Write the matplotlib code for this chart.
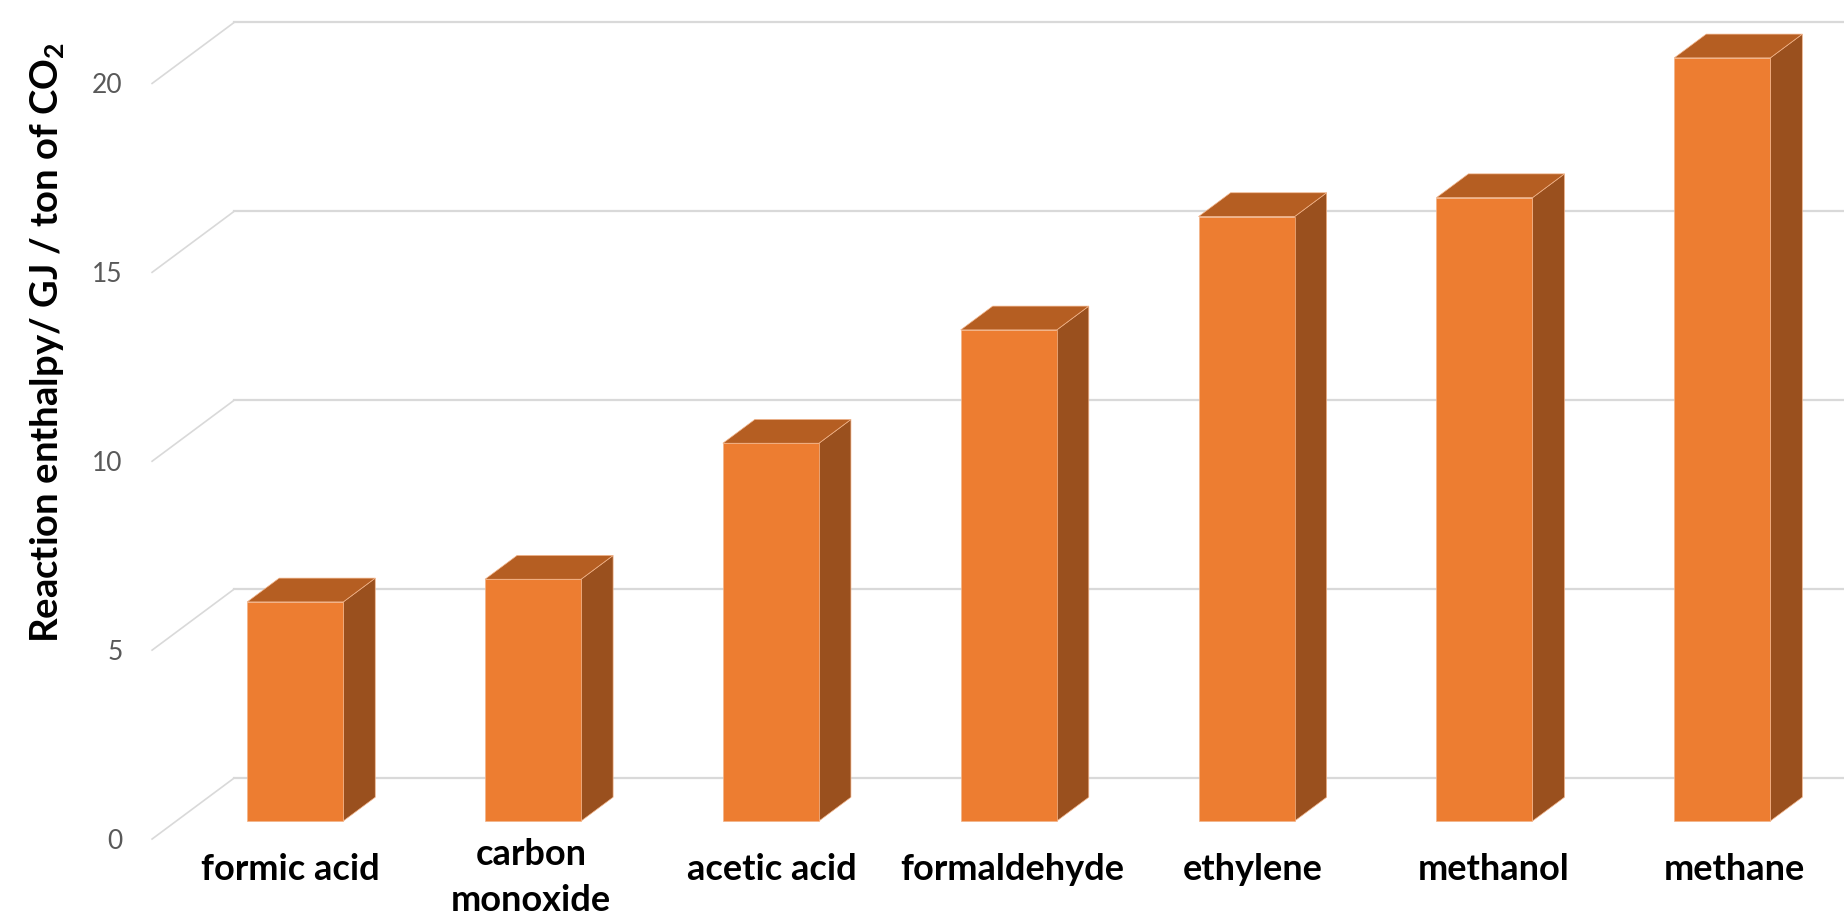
import matplotlib
matplotlib.use("Agg")
import matplotlib.pyplot as plt
from matplotlib.patches import Polygon

# Reaction enthalpy per ton of CO2 for each product
products = ["formic acid", "carbon\nmonoxide", "acetic acid", "formaldehyde",
            "ethylene", "methanol", "methane"]
enthalpy = [5.8, 6.4, 10.0, 13.0, 16.0, 16.5, 20.2]
yticks = [0, 5, 10, 15, 20]

plt.rcParams['font.family'] = ['Lato', 'DejaVu Sans']
plt.rcParams['mathtext.fontset'] = 'custom'
plt.rcParams['mathtext.bf'] = 'Lato:bold'
plt.rcParams['mathtext.rm'] = 'Lato:bold'
plt.rcParams['mathtext.default'] = 'bf'

# oblique 3D look: full depth shift in data units
DX, DY = 0.345, 1.615
d0, d1 = 0.295, 0.685     # bar depth span (fraction of floor depth)
bw = 0.404                # bar width

front_c = '#ED7D31'
top_c = '#B55E22'
side_c = '#9A501E'
grid_c = '#D9D9D9'

fig = plt.figure(figsize=(18.44, 9.16), dpi=100)
ax = fig.add_axes([0.06958, 0.02216, 0.98026, 0.98985])
ax.set_xlim(-0.6, 7.0)
ax.set_ylim(-1.5, 22.5)
for s in ax.spines.values():
    s.set_visible(False)

# walls: back gridlines plus diagonals on the side wall
for g in yticks:
    ax.plot([-0.5, -0.5 + DX], [g, g + DY], color=grid_c, lw=1.2, zorder=1)
    ax.plot([-0.5 + DX, 7.0], [g + DY, g + DY], color=grid_c, lw=1.6, zorder=1)

bd = d1 - d0
for i, v in enumerate(enthalpy):
    xl = i - bw / 2 + d0 * DX
    xr = i + bw / 2 + d0 * DX
    yb = d0 * DY
    yt = v + d0 * DY
    front = [(xl, yb), (xr, yb), (xr, yt), (xl, yt)]
    top = [(xl, yt), (xr, yt), (xr + bd * DX, yt + bd * DY), (xl + bd * DX, yt + bd * DY)]
    side = [(xr, yb), (xr + bd * DX, yb + bd * DY), (xr + bd * DX, yt + bd * DY), (xr, yt)]
    for pts, c in [(side, side_c), (top, top_c), (front, front_c)]:
        ax.add_patch(Polygon(pts, closed=True, facecolor=c, edgecolor='#F2B48A',
                             lw=0.5, zorder=3))
    label = products[i]
    ax.text(i + d0 * DX - 0.02 + 0.012 * i, -0.8 - 0.22 * label.count('\n'), label,
            ha='center', va='center', fontsize=26, fontweight='bold',
            color='black', linespacing=1.45)

ax.set_xticks([])
ax.set_yticks(yticks)
ax.tick_params(axis='y', length=0, pad=4, labelsize=19, labelcolor='#595959')
ax.set_ylabel('Reaction enthalpy/ GJ / ton of CO$_2$', fontsize=27.5,
              fontweight='bold', color='black')
ax.yaxis.set_label_coords(-0.0345, 0.61)

fig.savefig('out.png', dpi=100, facecolor='white')
